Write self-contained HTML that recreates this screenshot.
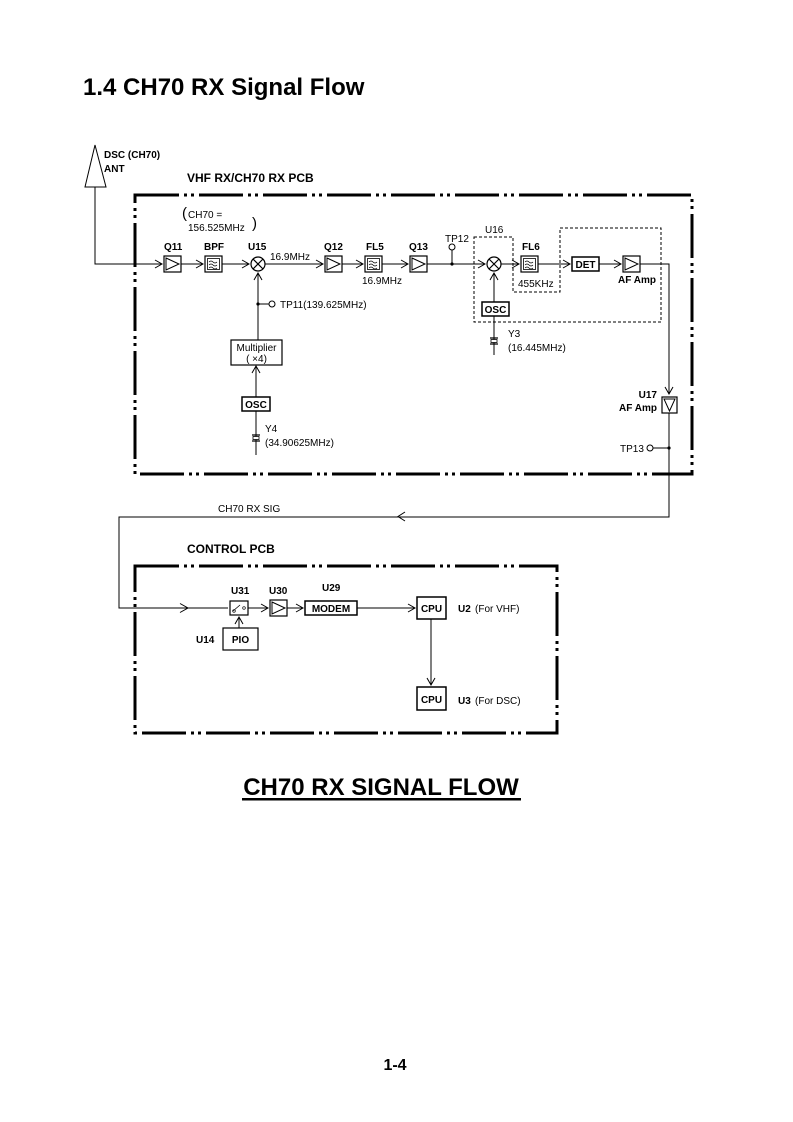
<!DOCTYPE html>
<html><head><meta charset="utf-8"><style>
html,body{margin:0;padding:0;background:#fff;}
svg{display:block;font-family:"Liberation Sans",Arial,sans-serif;}
.b{font-weight:bold;}
</style></head><body>
<svg width="793" height="1122" viewBox="0 0 793 1122" xmlns="http://www.w3.org/2000/svg">
<defs>
<marker id="ar" markerWidth="10" markerHeight="10" refX="8" refY="5" orient="auto" markerUnits="userSpaceOnUse">
<path d="M1,1 L8,5 L1,9" fill="none" stroke="#000" stroke-width="1"/>
</marker>
<g id="amp"><rect x="0" y="0" width="17" height="16" fill="#fff" stroke="#000" stroke-width="1.2"/><path d="M2,2 L15,8 L2,14 Z" fill="none" stroke="#000" stroke-width="1"/></g>
<g id="flt"><rect x="0" y="0" width="17" height="16" fill="#fff" stroke="#000" stroke-width="1.2"/><rect x="2.5" y="2.5" width="12" height="11" fill="none" stroke="#000" stroke-width="0.8"/><path d="M4,6 q2,-2 4,0 t4,0 M4,9 q2,-2 4,0 t4,0 M4,12 q2,-2 4,0 t4,0" fill="none" stroke="#000" stroke-width="0.7"/></g>
<g id="mix"><circle cx="0" cy="0" r="7" fill="#fff" stroke="#000" stroke-width="1.2"/><path d="M-5,-5 L5,5 M5,-5 L-5,5" stroke="#000" stroke-width="1.2"/></g>
<g id="xtal"><path d="M-4,-3 H4 M-4,3 H4" stroke="#000" stroke-width="1.2"/><rect x="-3" y="-1.5" width="6" height="3" fill="#fff" stroke="#000" stroke-width="0.8"/></g>
</defs>

<text x="83" y="95" font-size="24" class="b">1.4 CH70 RX Signal Flow</text>

<!-- antenna -->
<path d="M95,145 L85,187 L106,187 Z" fill="#fff" stroke="#000" stroke-width="1"/>
<text x="104" y="158" font-size="10" class="b">DSC (CH70)</text>
<text x="104" y="172" font-size="10" class="b">ANT</text>
<path d="M95,187 V264 H162" fill="none" stroke="#000" stroke-width="1" marker-end="url(#ar)"/>

<text x="187" y="182" font-size="12" class="b">VHF RX/CH70 RX PCB</text>
<rect x="135" y="195" width="557" height="279" fill="none" stroke="#000" stroke-width="3" stroke-dasharray="44 5 3 4 3 5"/>

<!-- CH70 label -->
<text x="182" y="218" font-size="15">(</text>
<text x="188" y="218" font-size="10">CH70 =</text>
<text x="188" y="231" font-size="10">156.525MHz</text>
<text x="252" y="228" font-size="15">)</text>

<!-- main line -->
<g font-size="10" class="b">
<text x="164" y="250">Q11</text><text x="204" y="250">BPF</text><text x="248" y="250">U15</text>
<text x="324" y="250">Q12</text><text x="366" y="250">FL5</text><text x="409" y="250">Q13</text>
<text x="522" y="250">FL6</text>
</g>
<g stroke="#000" stroke-width="1" fill="none">
<path d="M181,264 H203" marker-end="url(#ar)"/>
<path d="M222,264 H249" marker-end="url(#ar)"/>
<path d="M265,264 H323" marker-end="url(#ar)"/>
<path d="M342,264 H363" marker-end="url(#ar)"/>
<path d="M382,264 H408" marker-end="url(#ar)"/>
<path d="M427,264 H485" marker-end="url(#ar)"/>
<path d="M501,264 H519" marker-end="url(#ar)"/>
<path d="M538,264 H570" marker-end="url(#ar)"/>
<path d="M599,264 H621" marker-end="url(#ar)"/>
<path d="M640,264 H669 V394" marker-end="url(#ar)"/>
<path d="M452,250 V264"/>
<circle cx="452" cy="247" r="3"/>
<path d="M258,340 V273" marker-end="url(#ar)"/>
<path d="M258,304 H269"/><circle cx="272" cy="304" r="3"/>
<path d="M256,397 V366" marker-end="url(#ar)"/>
<path d="M256,410 V455"/>
<path d="M494,302 V273" marker-end="url(#ar)"/>
<path d="M494,316 V355"/>
<path d="M669,413 V517 H119 V608 H185" />
<path d="M185,608 H228" />
<path d="M669,448 H653"/><circle cx="650" cy="448" r="3"/>
<path d="M405,512 L398,516.5 L405,521"/>
<path d="M180,603.5 L188,608 L180,612.5"/>
</g>
<circle cx="452" cy="264" r="1.6"/><circle cx="258" cy="304" r="1.6"/><circle cx="669" cy="448" r="1.6"/>

<use href="#amp" x="164" y="256"/>
<use href="#flt" x="205" y="256"/>
<use href="#mix" x="258" y="264"/>
<use href="#amp" x="325" y="256"/>
<use href="#flt" x="365" y="256"/>
<use href="#amp" x="410" y="256"/>
<use href="#mix" x="494" y="264"/>
<use href="#flt" x="521" y="256"/>
<rect x="572" y="257" width="27" height="14" fill="#fff" stroke="#000" stroke-width="1.5"/>
<text x="585.5" y="268" font-size="10" class="b" text-anchor="middle">DET</text>
<use href="#amp" x="623" y="256"/>

<text x="270" y="260" font-size="10">16.9MHz</text>
<text x="362" y="284" font-size="10">16.9MHz</text>
<text x="445" y="242" font-size="10">TP12</text>
<text x="485" y="233" font-size="10">U16</text>
<text x="518" y="287" font-size="10">455KHz</text>
<text x="656" y="283" font-size="10" class="b" text-anchor="end">AF Amp</text>

<path d="M474,237 H513 V292 H560 V228 H661 V322 H474 Z" fill="none" stroke="#000" stroke-width="1" stroke-dasharray="3 2"/>

<rect x="482" y="302" width="27" height="14" fill="#fff" stroke="#000" stroke-width="1.5"/>
<text x="495.5" y="313" font-size="10" class="b" text-anchor="middle">OSC</text>
<use href="#xtal" x="494" y="341"/>
<text x="508" y="337" font-size="10">Y3</text>
<text x="508" y="351" font-size="10">(16.445MHz)</text>

<text x="280" y="308" font-size="10">TP11(139.625MHz)</text>
<rect x="231" y="340" width="51" height="25" fill="#fff" stroke="#000" stroke-width="1.2"/>
<text x="256.5" y="351" font-size="10" text-anchor="middle">Multiplier</text>
<text x="256.5" y="362" font-size="10" text-anchor="middle">( ×4)</text>
<rect x="242" y="397" width="28" height="14" fill="#fff" stroke="#000" stroke-width="1.5"/>
<text x="256" y="408" font-size="10" class="b" text-anchor="middle">OSC</text>
<use href="#xtal" x="256" y="438"/>
<text x="265" y="432" font-size="10">Y4</text>
<text x="265" y="446" font-size="10">(34.90625MHz)</text>

<rect x="662" y="397" width="15" height="16" fill="#fff" stroke="#000" stroke-width="1.2"/>
<path d="M664,399 L675,399 L669.5,411 Z" fill="none" stroke="#000" stroke-width="1"/>
<text x="657" y="398" font-size="10" class="b" text-anchor="end">U17</text>
<text x="657" y="411" font-size="10" class="b" text-anchor="end">AF Amp</text>
<text x="620" y="452" font-size="10">TP13</text>

<text x="218" y="512" font-size="10">CH70 RX SIG</text>

<text x="187" y="553" font-size="12" class="b">CONTROL PCB</text>
<rect x="135" y="566" width="422" height="167" fill="none" stroke="#000" stroke-width="3" stroke-dasharray="44 5 3 4 3 5"/>

<g font-size="10" class="b">
<text x="231" y="594">U31</text><text x="269" y="594">U30</text><text x="322" y="591">U29</text>
<text x="196" y="643">U14</text>
<text x="458" y="612">U2</text><text x="458" y="704">U3</text>
</g>
<text x="475" y="612" font-size="10">(For VHF)</text>
<text x="475" y="704" font-size="10">(For DSC)</text>

<rect x="230" y="601" width="18" height="14" fill="#fff" stroke="#000" stroke-width="1.2"/>
<path d="M233,611 L240,605" stroke="#000" stroke-width="0.8"/><circle cx="234" cy="611" r="1.3" fill="none" stroke="#000" stroke-width="0.7"/><circle cx="244" cy="608" r="1.3" fill="none" stroke="#000" stroke-width="0.7"/>
<use href="#amp" x="270" y="600"/>
<rect x="305" y="601" width="52" height="14" fill="#fff" stroke="#000" stroke-width="1.5"/>
<text x="331" y="612" font-size="10" class="b" text-anchor="middle">MODEM</text>
<rect x="417" y="597" width="29" height="22" fill="#fff" stroke="#000" stroke-width="1.5"/>
<text x="431.5" y="612" font-size="10" class="b" text-anchor="middle">CPU</text>
<rect x="417" y="687" width="29" height="23" fill="#fff" stroke="#000" stroke-width="1.5"/>
<text x="431.5" y="703" font-size="10" class="b" text-anchor="middle">CPU</text>
<rect x="223" y="628" width="35" height="22" fill="#fff" stroke="#000" stroke-width="1.2"/>
<text x="240.5" y="643" font-size="10" class="b" text-anchor="middle">PIO</text>
<g stroke="#000" stroke-width="1" fill="none">
<path d="M248,608 H268" marker-end="url(#ar)"/>
<path d="M287,608 H303" marker-end="url(#ar)"/>
<path d="M357,608 H415" marker-end="url(#ar)"/>
<path d="M431,619 V685" marker-end="url(#ar)"/>
<path d="M239,628 V617" marker-end="url(#ar)"/>
</g>

<text x="381" y="795" font-size="24" class="b" text-anchor="middle">CH70 RX SIGNAL FLOW</text>
<rect x="242" y="798" width="279" height="2.5" fill="#000"/>

<text x="395" y="1070" font-size="16" class="b" text-anchor="middle">1-4</text>
</svg>
</body></html>
